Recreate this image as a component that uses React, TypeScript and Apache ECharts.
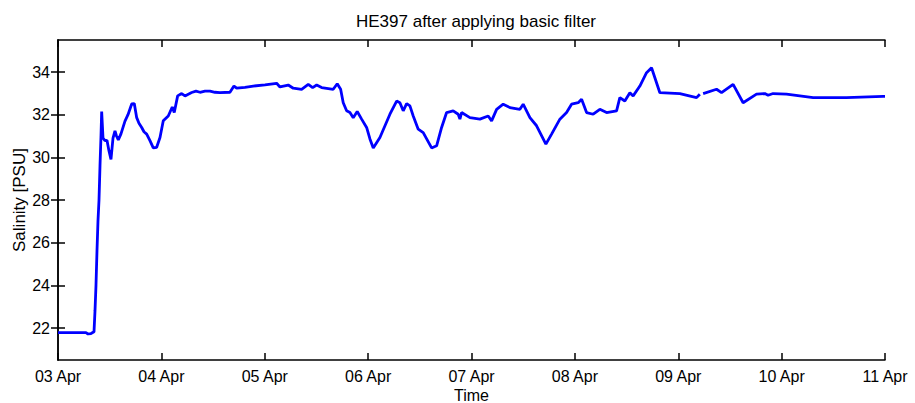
import React, { useEffect, useRef } from "react";
import * as echarts from "echarts";

// hours since 03 Apr 00:00
const hours = [
  0, 2.79, 6.5, 6.96, 7.66, 8.36, 8.59, 8.82, 9.05, 9.28, 9.52, 9.75, 9.98, 10.14, 10.45, 10.91, 11.37,
  11.84, 12.3, 12.77, 13.23, 13.58, 14.0, 14.62, 15.55, 16.25, 17.11, 17.71, 18.27, 18.8, 19.43, 19.96,
  20.59, 21.35, 22.12, 22.91, 23.68, 24.44, 25.6, 26.53, 26.99, 27.78, 28.71, 29.48, 31.03, 32.03,
  32.96, 34.12, 35.28, 36.44, 37.6, 39.92, 40.85, 41.48, 43.4, 45.33, 48.05, 50.76, 51.53, 53.45,
  54.62, 56.56, 58.1, 59.12, 60.05, 61.21, 63.9, 64.83, 65.62, 66.22, 67.01, 67.78, 68.54, 69.47,
  70.49, 71.65, 72.42, 73.19, 74.74, 77.06, 78.62, 79.38, 80.15, 80.94, 81.7, 82.47, 83.63, 84.79,
  86.74, 87.9, 89.06, 90.22, 91.75, 92.91, 93.31, 93.7, 95.63, 97.95, 99.88, 100.67, 101.83, 103.36,
  104.91, 107.24, 108.0, 109.56, 111.11, 113.27, 114.59, 116.52, 118.07, 119.23, 120.77, 121.56,
  122.72, 124.25, 125.8, 127.36, 129.68, 130.44, 131.6, 132.77, 133.53, 135.09, 136.64, 137.8,
  139.73, 144.37, 148.25, 149.01, 149.4, 149.78, 152.89, 154.05, 156.74, 159.06, 162.17, 164.1,
  164.86, 166.02, 169.13, 175.31, 183.06, 191.56, 192,
];

const salinity: (number | null)[] = [
  21.78, 21.78, 21.78, 21.72, 21.74, 21.82, 22.8, 24.0, 25.6, 27.0, 28.0, 29.6, 31.0, 32.15, 30.9, 30.78,
  30.8, 30.3, 29.9, 30.9, 31.24, 31.0, 30.82, 31.1, 31.7, 32.0, 32.5, 32.52, 31.86, 31.6, 31.4, 31.2,
  31.09, 30.78, 30.44, 30.47, 30.93, 31.71, 31.94, 32.36, 32.1, 32.88, 32.99, 32.88, 33.04, 33.1,
  33.05, 33.1, 33.1, 33.05, 33.03, 33.05, 33.34, 33.24, 33.28, 33.34, 33.4, 33.47, 33.3, 33.39,
  33.24, 33.19, 33.42, 33.27, 33.39, 33.27, 33.19, 33.45, 33.19, 32.56, 32.18, 32.1, 31.86, 32.15,
  31.79, 31.4, 30.86, 30.44, 30.93, 32.02, 32.64, 32.56, 32.18, 32.52, 32.41, 31.94, 31.32, 31.16,
  30.44, 30.54, 31.4, 32.1, 32.18, 32.02, 31.79, 32.1, 31.86, 31.79, 31.94, 31.71, 32.25, 32.49,
  32.33, 32.25, 32.49, 31.86, 31.48, 30.62, 31.09, 31.79, 32.1, 32.49, 32.56, 32.72,
  32.1, 32.02, 32.25, 32.1, 32.18, 32.8, 32.64, 33.03, 32.88, 33.34, 33.97, 34.2,
  33.03, 32.99, 32.8, 32.96, null, 32.99, 33.19, 33.03, 33.42, 32.56, 32.96, 32.99,
  32.91, 32.99, 32.96, 32.8, 32.8, 32.86, 32.86,
];

const dayLabels = ["03 Apr", "04 Apr", "05 Apr", "06 Apr", "07 Apr", "08 Apr", "09 Apr", "10 Apr", "11 Apr"];
const yTicks = [22, 24, 26, 28, 30, 32, 34];

const FONT = "Liberation Sans, Arial, sans-serif";

export default function App() {
  const ref = useRef<HTMLDivElement>(null);
  useEffect(() => {
    if (!ref.current) return;
    const chart = echarts.init(ref.current, null, { renderer: "svg" });
    const axisLine = { show: true, lineStyle: { color: "#000", width: 1.5 } };
    const tick = { show: true, inside: true, length: 7, lineStyle: { color: "#000", width: 1.5 } };
    chart.setOption({
      animation: false,
      backgroundColor: "#fff",
      title: {
        text: "HE397 after applying basic filter",
        left: 471,
        textAlign: "center",
        top: 8,
        textStyle: { fontFamily: FONT, fontSize: 17, fontWeight: "normal", color: "#000" },
      },
      grid: { left: 58, right: 30, top: 40, bottom: 43, show: false, outerBoundsMode: "none", containLabel: false },
      xAxis: [
        {
          type: "value",
          min: 0,
          max: 192,
          interval: 24,
          position: "bottom",
          name: "Time",
          nameLocation: "middle",
          nameGap: 27,
          nameMoveOverlap: false,
          nameTextStyle: { fontFamily: FONT, fontSize: 16, color: "#000" },
          axisLine,
          axisTick: tick,
          splitLine: { show: false },
          axisLabel: {
            fontFamily: FONT,
            fontSize: 16,
            color: "#000",
            margin: 8,
            formatter: (v: number) => dayLabels[Math.round(v / 24)] ?? "",
          },
        },
        {
          type: "value",
          min: 0,
          max: 192,
          interval: 24,
          position: "top",
          axisLine,
          axisTick: tick,
          splitLine: { show: false },
          axisLabel: { show: false },
        },
      ],
      yAxis: [
        {
          type: "value",
          min: 20.5,
          max: 35.5,
          position: "left",
          name: "Salinity [PSU]",
          nameLocation: "middle",
          nameGap: 30,
          nameMoveOverlap: false,
          nameTextStyle: { fontFamily: FONT, fontSize: 17, color: "#000" },
          axisLine,
          axisTick: { ...tick, customValues: yTicks },
          splitLine: { show: false },
          axisLabel: { fontFamily: FONT, fontSize: 16, color: "#000", margin: 8, customValues: yTicks },
        },
        {
          type: "value",
          min: 20.5,
          max: 35.5,
          position: "right",
          axisLine,
          axisTick: { ...tick, customValues: yTicks },
          splitLine: { show: false },
          axisLabel: { show: false, customValues: yTicks },
        },
      ],
      series: [
        {
          type: "line",
          xAxisIndex: 0,
          yAxisIndex: 0,
          showSymbol: false,
          symbol: "none",
          connectNulls: false,
          lineStyle: { color: "#0000ff", width: 2.8 },
          data: hours.map((h, i) => [h, salinity[i] === null ? "-" : salinity[i]]),
        },
      ],
    });
    return () => chart.dispose();
  }, []);
  return (
    <div
      ref={ref}
      style={{ position: "absolute", left: 0, top: 0, width: 915, height: 403, background: "#fff" }}
    />
  );
}
